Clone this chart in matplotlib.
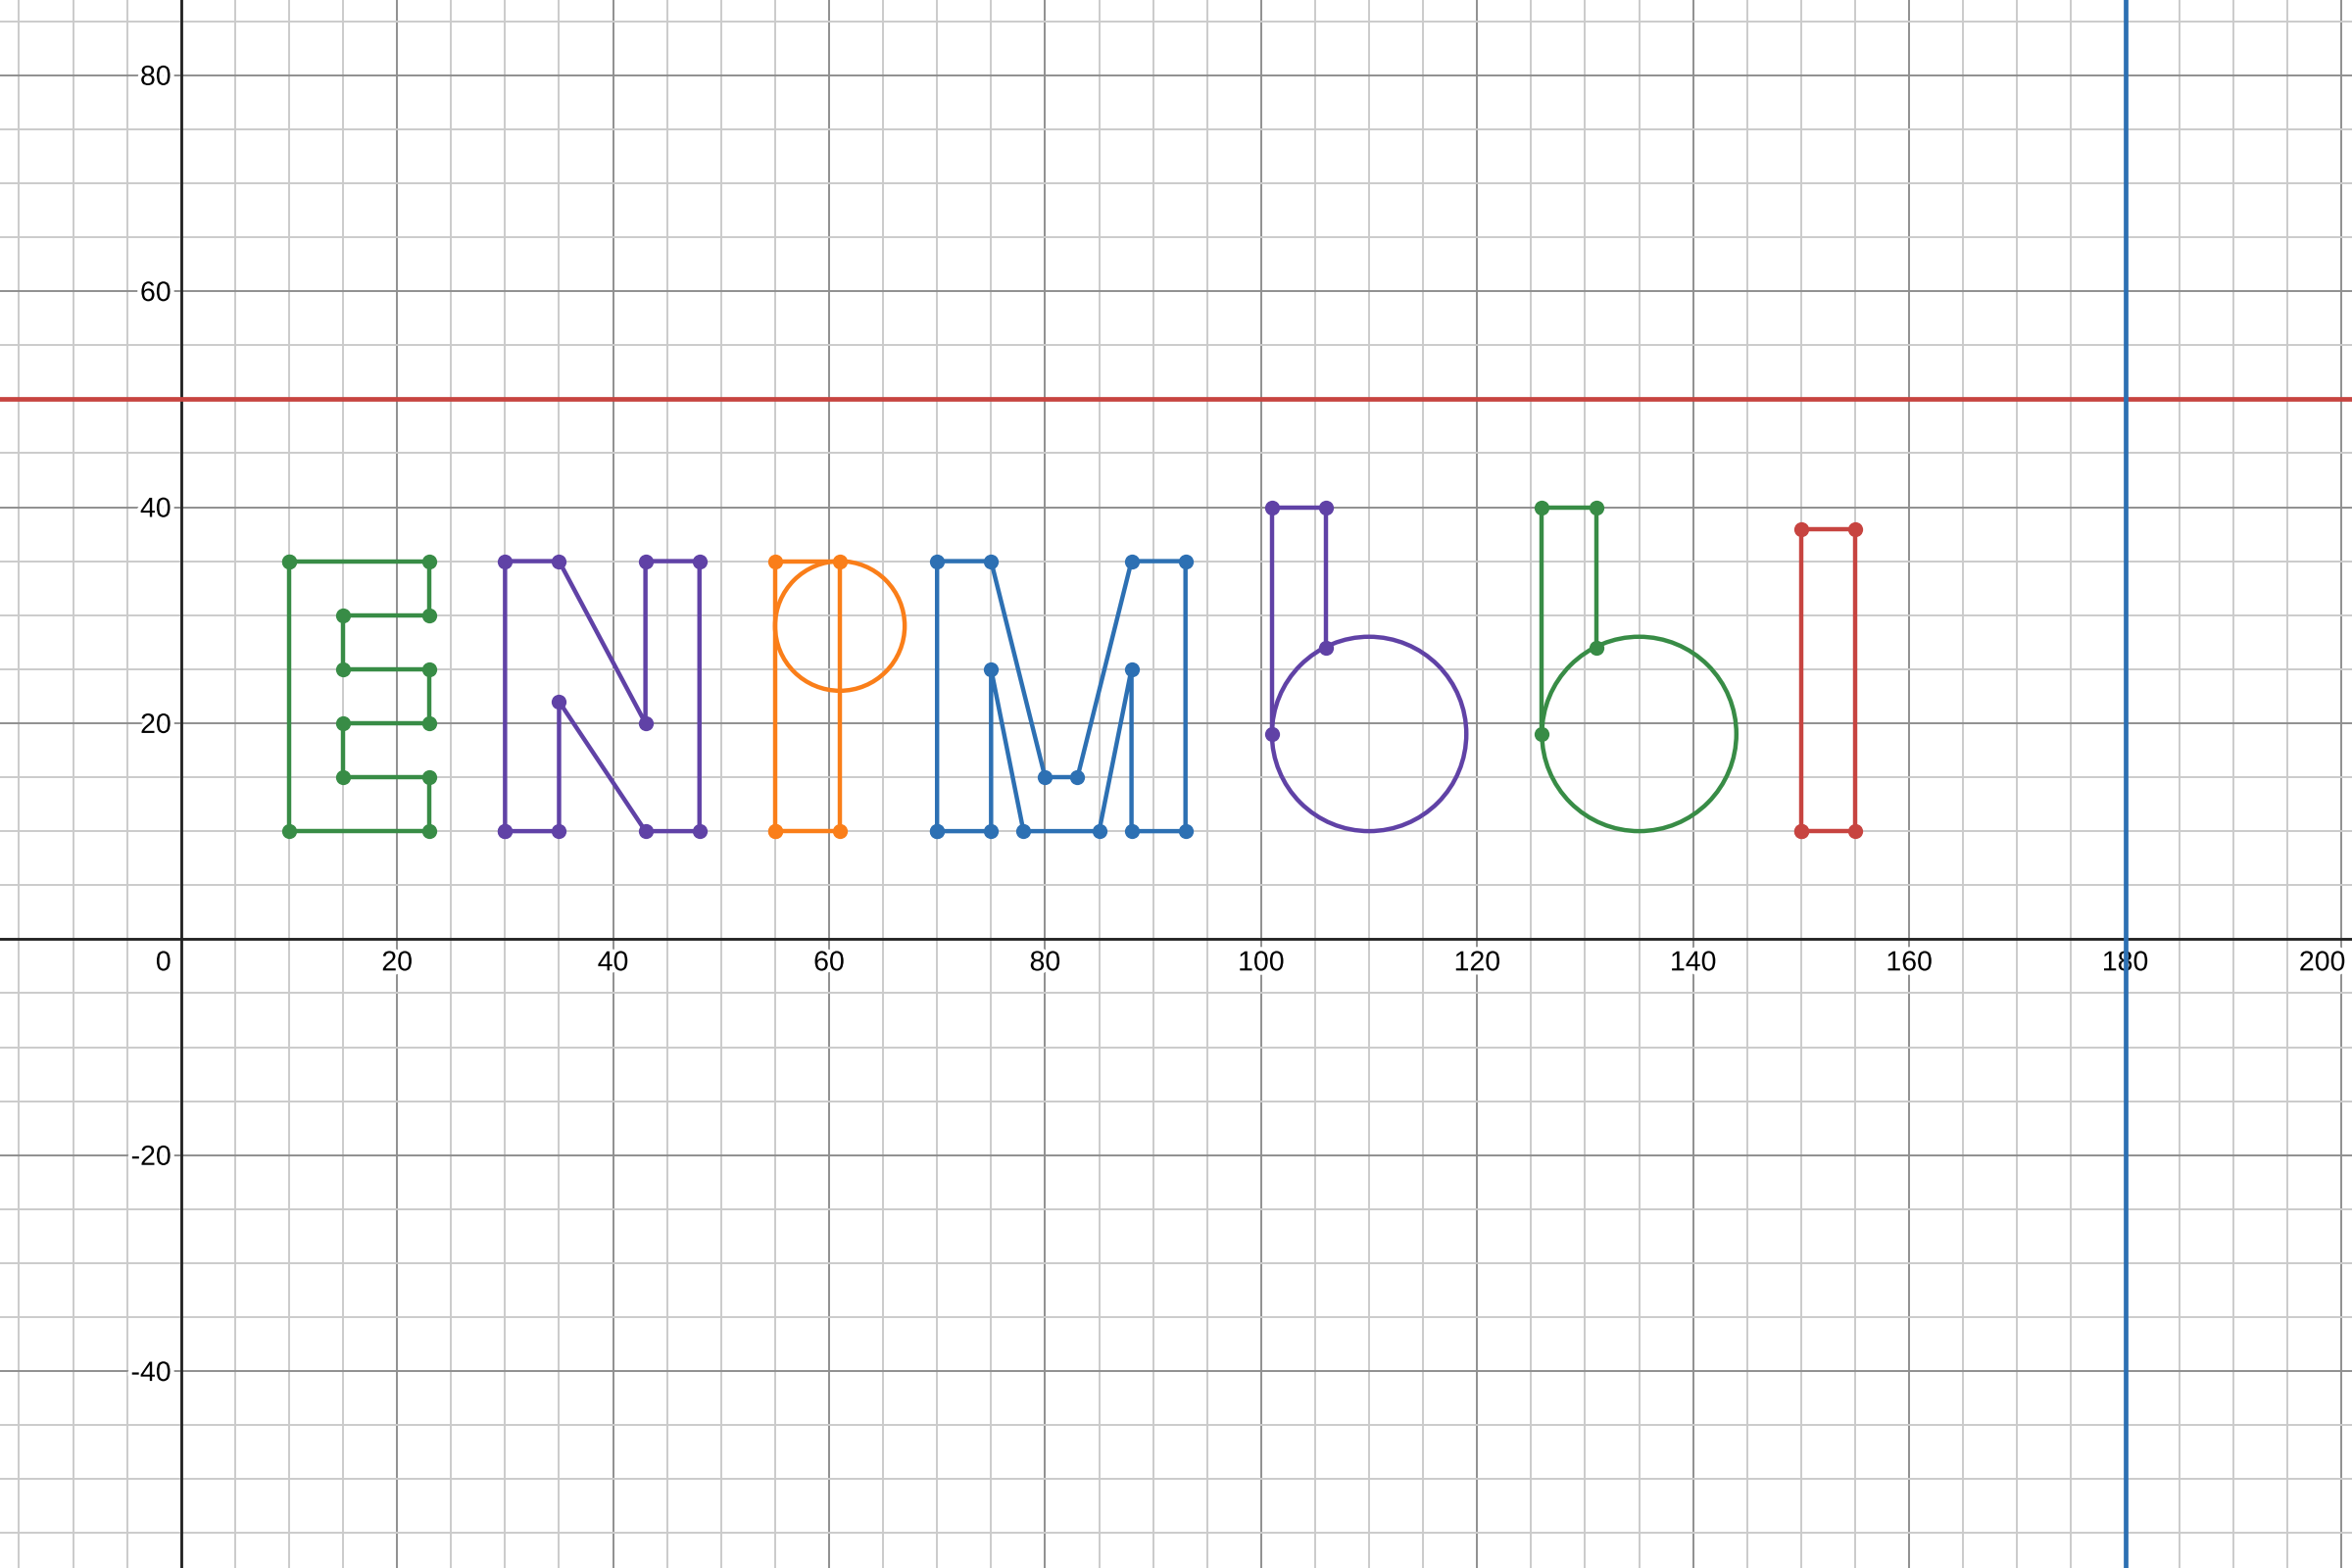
import numpy as np
import matplotlib
matplotlib.use('Agg')
import matplotlib.pyplot as plt
from matplotlib.patches import Circle
import matplotlib.patheffects as pe

plt.rcParams['font.family'] = ['Liberation Sans', 'DejaVu Sans']

# ---- colours (desmos palette) ----
GREEN = '#388c46'
PURPLE = '#6042a6'
ORANGE = '#fa7e19'
BLUE = '#2d70b3'
RED = '#c74440'

# ---- letters: polygon / polyline vertices ----
e_x = [10, 23, 23, 15, 15, 23, 23, 15, 15, 23, 23, 10, 10]
e_y = [35, 35, 30, 30, 25, 25, 20, 20, 15, 15, 10, 10, 35]

n_x = [30, 30, 35, 43, 43, 48, 48, 43, 35, 35, 30]
n_y = [10, 35, 35, 20, 35, 35, 10, 10, 22, 10, 10]

p_x = [55, 55, 61, 61, 55]
p_y = [10, 35, 35, 10, 10]

m_x = [70, 70, 75, 80, 83, 88, 93, 93, 88, 88, 85, 78, 75, 75, 70]
m_y = [10, 35, 35, 15, 15, 35, 35, 10, 10, 25, 10, 10, 25, 10, 10]

soft_x = [101, 101, 106, 106]
soft_y = [19, 40, 40, 27]

yery_x = [126, 126, 131, 131]
yery_y = [19, 40, 40, 27]

i_x = [150, 150, 155, 155, 150]
i_y = [10, 38, 38, 10, 10]

shapes = [(e_x, e_y, GREEN), (n_x, n_y, PURPLE), (p_x, p_y, ORANGE),
          (m_x, m_y, BLUE), (soft_x, soft_y, PURPLE), (yery_x, yery_y, GREEN),
          (i_x, i_y, RED)]

# ---- circles: centre x, centre y, radius ----
circ_cx = [61, 110, 135]
circ_cy = [29, 19, 19]
circ_r = [6, 9, 9]
circ_col = [ORANGE, PURPLE, GREEN]

# ---- straight lines ----
hline_y = 50
vline_x = 180

# ---- view / ticks ----
x_min, x_max = -16.76, 201.0
y_min, y_max = -58.23, 86.96
x_labels = [20, 40, 60, 80, 100, 120, 140, 160, 180, 200]
y_labels = [-40, -20, 20, 40, 60, 80]

fig = plt.figure(figsize=(24, 16), dpi=100)
ax = fig.add_axes([0, 0, 1, 1])
ax.set_xlim(x_min, x_max)
ax.set_ylim(y_min, y_max)
ax.axis('off')

# grid
for gx in np.arange(-15, 205, 5):
    major = gx % 20 == 0
    ax.axvline(gx, color='#8f8f8f' if major else '#cbcbcb', lw=1.4, zorder=0)
for gy in np.arange(-55, 90, 5):
    major = gy % 20 == 0
    ax.axhline(gy, color='#8f8f8f' if major else '#cbcbcb', lw=1.4, zorder=0)

# axes
ax.axhline(0, color='#222222', lw=2.0, zorder=1)
ax.axvline(0, color='#222222', lw=2.0, zorder=1)

# tick labels with white halo
halo = [pe.withStroke(linewidth=6, foreground='white')]
for v in x_labels:
    ha = 'center'
    xx = v
    if v == 200:
        ha = 'right'
        xx = x_max - 0.6
    ax.annotate(str(v), xy=(xx, 0), xytext=(0, -12), textcoords='offset pixels',
                ha=ha, va='top', fontsize=20.5, color='black', path_effects=halo, zorder=2)
for v in y_labels:
    ax.annotate(str(v), xy=(0, v), xytext=(-10, 0), textcoords='offset pixels',
                ha='right', va='center_baseline', fontsize=20.5, color='black',
                path_effects=halo, zorder=2)
ax.annotate('0', xy=(0, 0), xytext=(-10, -12), textcoords='offset pixels',
            ha='right', va='top', fontsize=20.5, color='black', path_effects=halo, zorder=2)

# horizontal / vertical lines
ax.axhline(hline_y, color=RED, lw=3.4, zorder=3)
ax.axvline(vline_x, color=BLUE, lw=3.4, zorder=3)

# letters
for xs, ys, c in shapes:
    ax.plot(xs, ys, color=c, lw=3.2, zorder=4, solid_joinstyle='round')
    ax.plot(xs, ys, 'o', color=c, markersize=11, markeredgewidth=0, zorder=5)

for cx, cy, r, c in zip(circ_cx, circ_cy, circ_r, circ_col):
    ax.add_patch(Circle((cx, cy), r, fill=False, edgecolor=c, lw=3.2, zorder=4))

fig.savefig('out.png', dpi=100)
